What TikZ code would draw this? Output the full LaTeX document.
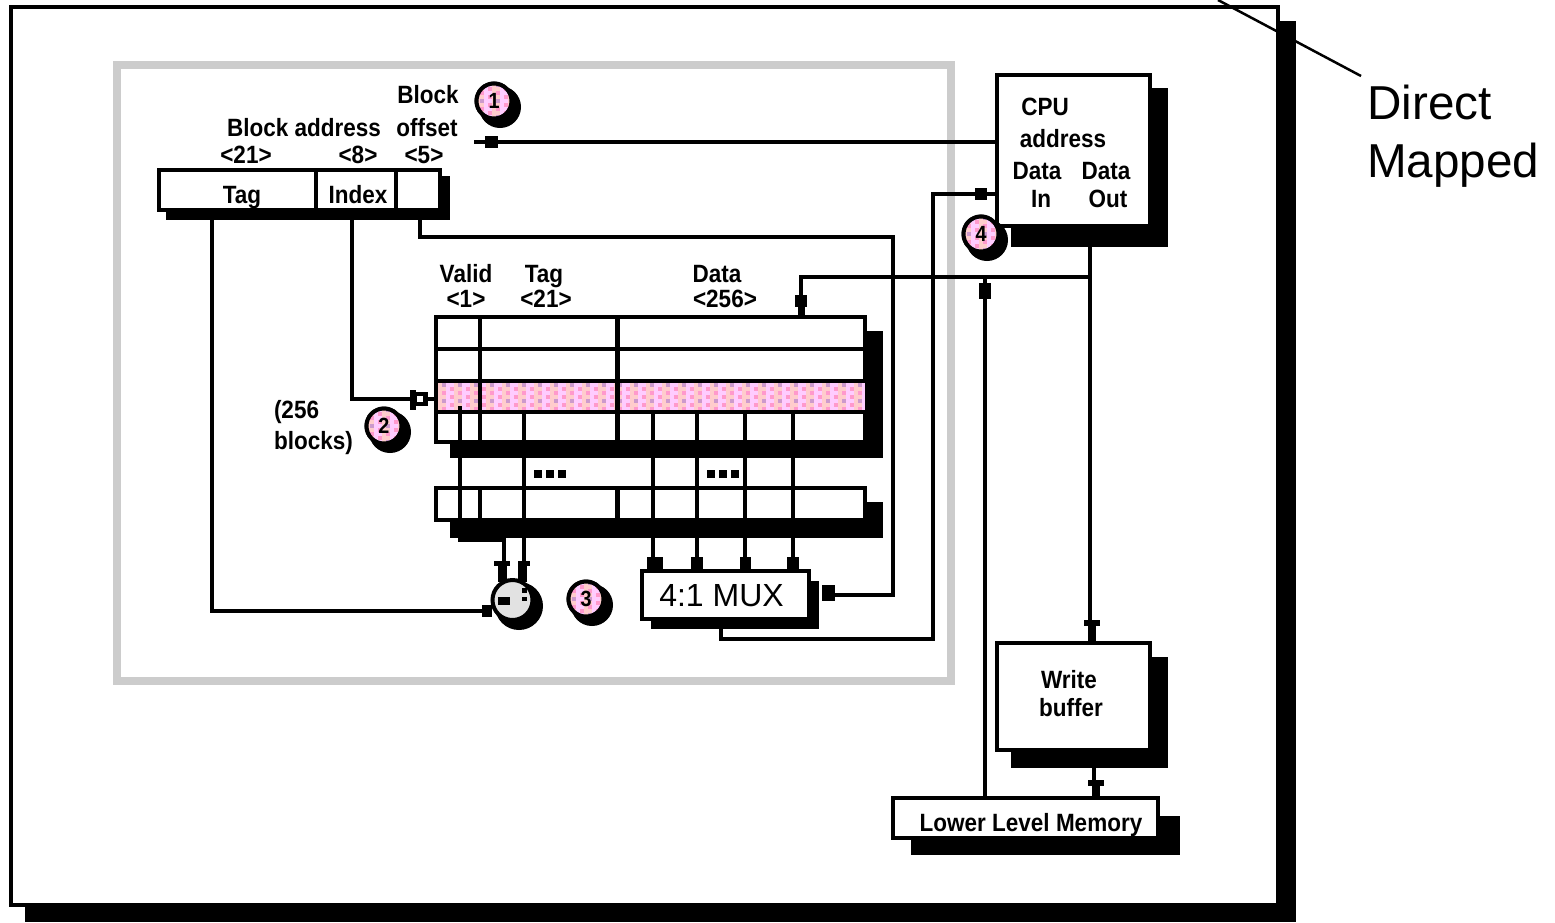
\documentclass[tikz,border=0pt]{standalone}
\usepackage{fontspec}
\setmainfont{Liberation Sans}
\newfontfamily\bmf{Liberation Sans}[FakeStretch=0.9]
\definecolor{dpale}{HTML}{FFCCFF}
\definecolor{dpeach}{HTML}{FFCCCC}
\definecolor{dpink}{HTML}{FF99CC}
\definecolor{dmauve}{HTML}{CC99CC}
\definecolor{framegray}{HTML}{CCCCCC}
\definecolor{cmpgray}{HTML}{E2E2E2}
\tikzset{
  wire/.style={line width=4pt,black,line cap=butt,line join=miter},
  boxnode/.style={draw=black,fill=white,line width=4pt,inner sep=0pt,outer sep=0pt,anchor=center},
  lbl/.style={inner sep=0pt,outer sep=0pt,text height=18pt,text depth=0pt,anchor=center,font=\bmf\bfseries\fontsize{25}{28}\selectfont},
  disc/.style={circle,draw=black,line width=4pt,inner sep=0pt,outer sep=0pt,minimum size=35pt,font=\bmf\bfseries\fontsize{22}{24}\selectfont},
}
\newcommand{\dither}[4]{%
  \fill[dpale] (#1,#2) rectangle ++(#3*4,#4*4);
  \foreach \i in {1,...,#3}{\foreach \j in {1,...,#4}{%
    \pgfmathtruncatemacro\k{mod(\i+2*\j,4)}%
    \pgfmathtruncatemacro\m{mod(\j,2)}%
    \pgfmathtruncatemacro\n{mod(\j,4)}%
    \def\cname{dpale}%
    \ifnum\k=0 \ifnum\n=1 \def\cname{dmauve}\else\def\cname{dpink}\fi\fi
    \ifnum\k=2 \ifnum\m=0 \def\cname{dpeach}\fi\fi
    \ifnum\k=1 \ifnum\m=0 \def\cname{dpeach}\fi\fi
    \ifnum\k=3 \ifnum\m=1 \def\cname{dpeach}\fi\fi
    \fill[\cname] ({#1+(\i-1)*4},{#2+(\j-1)*4}) rectangle ++(4,4);
  }}%
}
\newcommand{\numdisc}[4]{%
  \fill[black] ({#2+6},{#3+6}) circle (21pt);
  \node[disc,fill=white] (#1) at (#2,#3) {};
  \begin{scope}
    \clip (#2,#3) circle (16.5pt);
    \dither{#2-18}{#3-18}{9}{9}
  \end{scope}
  \node[disc] (#1t) at (#2,#3) {#4};
}
\newcommand{\tipbox}[4]{\fill[black] (#1,#2) rectangle (#3,#4);}
\begin{document}
\begin{tikzpicture}[x=1pt,y=-1pt]
\useasboundingbox (0,0) rectangle (1555,922);
% outer sheet
\fill[black] (25,21) rectangle (1296,922);
\node[boxnode,minimum width=1267pt,minimum height=898pt] (sheet) at (644.5,456) {};
\coordinate (leadA) at (1218,0);
\coordinate (leadB) at (1361,76);
\draw[line width=2.5pt,black] (leadA) -- (leadB);
\node[inner sep=0pt,anchor=base west,align=left,font=\fontsize{47.6}{58}\selectfont] (dm1) at (1367,119) {Direct};
\node[inner sep=0pt,anchor=base west,align=left,font=\fontsize{47.6}{58}\selectfont] (dm2) at (1367,177) {Mapped};
% gray frame
\node[draw=framegray,line width=8pt,inner sep=0pt,minimum width=834pt,minimum height=616pt] (cachebox) at (534,373) {};
% address register
\fill[black] (166,176) rectangle (450,220);
\node[boxnode,minimum width=281pt,minimum height=40pt] (reg) at (299.5,190) {};
\draw[wire] (316,170) -- (316,210);
\draw[wire] (396,170) -- (396,210);
\node[lbl] (ltag) at (242,194) {Tag};
\node[lbl] (lidx) at (358,194) {Index};
\node[lbl] (lba) at (304,127) {Block address};
\node[lbl] (l21) at (246,154) {<21>};
\node[lbl] (l8) at (358,154) {<8>};
\node[lbl] (l5) at (424,154) {<5>};
\node[lbl] (lblk) at (428,94) {Block};
\node[lbl] (loff) at (427,127) {offset};
% tag/data table
\fill[black] (450,331) rectangle (883,458);
\fill[black] (450,502) rectangle (883,538);
\node[boxnode,minimum width=429pt,minimum height=125pt] (tbl) at (650.5,379) {};
\dither{438}{383}{107}{7}
\fill[black] (865,380) rectangle (868,412);
\draw[wire] (436,349) -- (865,349);
\draw[wire] (436,381) -- (865,381);
\draw[wire] (436,412) -- (865,412);
\draw[wire] (480,317) -- (480,440);
\draw[line width=5pt] (617,317) -- (617,440);
\node[boxnode,minimum width=429pt,minimum height=32pt] (low) at (650.5,504) {};
\draw[wire] (480,488) -- (480,520);
\draw[line width=5pt] (617,488) -- (617,520);
\node[lbl] (lv) at (466,273) {Valid};
\node[lbl] (lv1) at (466,298) {<1>};
\node[lbl] (lt) at (544,273) {Tag};
\node[lbl] (lt1) at (546,298) {<21>};
\node[lbl] (ld) at (717,273) {Data};
\node[lbl] (ld1) at (725,298) {<256>};
\node[lbl,anchor=west] (lb1) at (274,409) {(256};
\node[lbl,anchor=west] (lb2) at (274,440) {blocks)};
\foreach \x/\y in {538/a,550/b,562/c,711/d,723/e,735/f}{\fill[black] (\x-4,470) rectangle (\x+4,478);}
% MUX
\fill[black] (651,581) rectangle (819,629);
\node[boxnode,minimum width=167pt,minimum height=48pt] (mux) at (725.5,595) {};
\node[inner sep=0pt,font=\fontsize{32}{36}\selectfont] (muxt) at (721.5,596) {4:1 MUX};
% comparator
\fill[black] (519,606) circle (24pt);
\node[circle,draw=black,fill=cmpgray,line width=4pt,inner sep=0pt,outer sep=0pt,minimum size=40pt] (cmp) at (512.5,600) {};
\fill[black] (498,597) rectangle (510,605);
\fill[black] (522,588) rectangle (527,593);
\fill[black] (522,597) rectangle (527,601);
% CPU
\fill[black] (1011,88) rectangle (1168,247);
\node[boxnode,minimum width=153pt,minimum height=151pt] (cpu) at (1073.5,150.5) {};
\node[lbl] (c1) at (1045,106) {CPU};
\node[lbl] (c2) at (1063,138) {address};
\node[lbl] (c3) at (1037,170) {Data};
\node[lbl] (c4) at (1106,170) {Data};
\node[lbl] (c5) at (1041,198) {In};
\node[lbl] (c6) at (1108,198) {Out};
% write buffer
\fill[black] (1011,657) rectangle (1168,768);
\node[boxnode,minimum width=153pt,minimum height=107pt] (wb) at (1073.5,696.5) {};
\node[lbl] (w1) at (1069,679) {Write};
\node[lbl] (w2) at (1071,707) {buffer};
% lower level memory
\fill[black] (911,816) rectangle (1180,855);
\node[boxnode,minimum width=265pt,minimum height=40pt] (mem) at (1025.5,818) {};
\node[lbl] (m1) at (1031,822) {Lower Level Memory};
% named junctions
\coordinate (offEnd) at (474,142);
\coordinate (tagOut) at (212,220);
\coordinate (cmpIn) at (482,611);
\coordinate (idxOut) at (352,220);
\coordinate (idxIn) at (425,399);
\coordinate (oOut) at (420,220);
\coordinate (muxSel) at (830,595);
\coordinate (rail) at (893,237);
\coordinate (dinHit) at (933,194);
\coordinate (muxOut) at (721,629);
\coordinate (busY) at (1090,277);
\coordinate (cpuOut) at (1090,247);
% connectors
\draw[wire] (offEnd) -- (cpu.west |- offEnd);
\tipbox{485}{136}{498}{148}
\draw[wire] (tagOut) |- (cmpIn);
\tipbox{482}{605}{492}{617}
\draw[wire] (idxOut) |- (idxIn);
\fill[black] (410,390) rectangle (416,410);
\fill[black] (416,392) rectangle (428,406);
\fill[white] (417,396) rectangle (423,402);
\draw[wire] (428,399) -- (436,399);
\draw[wire] (oOut) |- (rail) |- (muxSel);
\tipbox{822}{585}{835}{601}
\draw[wire] (muxOut) |- (dinHit |- 0,639) -- (dinHit) -- (cpu.west |- dinHit);
\tipbox{975}{188}{987}{200}
\draw[wire] (cpuOut) -- (wb.north -| cpuOut);
\fill[black] (1084,620) rectangle (1100,626);
\fill[black] (1088,626) rectangle (1096,642);
\draw[wire] (busY) -- (801,277) -- (tbl.north -| 801,0);
\tipbox{795}{295}{807}{307}
\fill[black] (798,307) rectangle (805,316);
\draw[wire] (mem.north -| 985,0) -- (985,277);
\tipbox{979}{283}{991}{299}
\draw[wire] (wb.south -| 1094,0) -- (mem.north -| 1094,0);
\fill[black] (1088,780) rectangle (1104,786);
\fill[black] (1092,786) rectangle (1100,799);
% table sub columns and outputs
\draw[wire] (460,406) -- (460,540) -- (504,540) -- (504,561);
\draw[wire] (524,412) -- (524,561);
\fill[black] (494,561) rectangle (510,566);
\fill[black] (498,566) rectangle (507,582);
\fill[black] (518,561) rectangle (530,566);
\fill[black] (518,566) rectangle (527,582);
\foreach \x/\a/\b in {653/647/663,697/691/703,745/740/751,793/787/799}{
  \draw[wire] (\x,412) -- (\x,557);
  \fill[black] (\a,557) rectangle (\b,570);
}
% numbered discs
\numdisc{dOne}{494}{101}{1}
\numdisc{dTwo}{384}{426}{2}
\numdisc{dThree}{586}{599}{3}
\numdisc{dFour}{981}{234}{4}
\end{tikzpicture}
\end{document}
